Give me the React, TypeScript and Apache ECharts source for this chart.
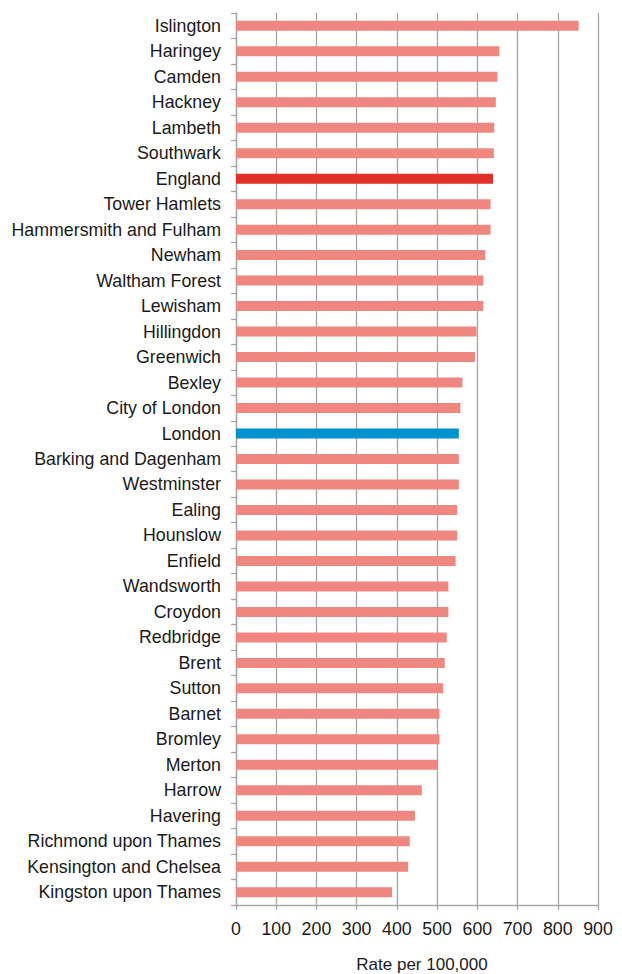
import React, { useEffect, useRef } from "react";
import * as echarts from "echarts";

const categories = [
  "Islington", "Haringey", "Camden", "Hackney", "Lambeth", "Southwark", "England",
  "Tower Hamlets", "Hammersmith and Fulham", "Newham", "Waltham Forest", "Lewisham",
  "Hillingdon", "Greenwich", "Bexley", "City of London", "London", "Barking and Dagenham",
  "Westminster", "Ealing", "Hounslow", "Enfield", "Wandsworth", "Croydon", "Redbridge",
  "Brent", "Sutton", "Barnet", "Bromley", "Merton", "Harrow", "Havering",
  "Richmond upon Thames", "Kensington and Chelsea", "Kingston upon Thames",
];

const rates = [
  852, 655, 650, 646, 642, 641, 639,
  633, 633, 620, 615, 615,
  598, 594, 563, 558, 554, 554,
  554, 550, 550, 546, 528, 528, 524,
  519, 515, 506, 506, 501, 462, 445,
  432, 428, 388,
];

const xTicks = { min: 0, max: 900, interval: 100 };

const COLOR_DEFAULT = "#f08680";
const COLOR_ENGLAND = "#e3312a";
const COLOR_LONDON = "#0091cf";
const FONT = "Liberation Sans, Arial, sans-serif";

export default function App() {
  const ref = useRef<HTMLDivElement>(null);
  useEffect(() => {
    if (!ref.current) return;
    const chart = echarts.init(ref.current, undefined, { renderer: "svg" });
    const data = rates.map((v, i) => {
      const name = categories[i];
      const color = name === "England" ? COLOR_ENGLAND : name === "London" ? COLOR_LONDON : COLOR_DEFAULT;
      return { value: v, itemStyle: { color } };
    });
    chart.setOption({
      animation: false,
      textStyle: { fontFamily: FONT },
      grid: { left: 236, right: 24, top: 13, bottom: 69, containLabel: false, outerBoundsMode: "none" },
      xAxis: {
        type: "value",
        min: xTicks.min,
        max: xTicks.max,
        interval: xTicks.interval,
        name: "Rate per 100,000",
        nameLocation: "middle",
        nameGap: 51,
        nameTextStyle: { fontSize: 17, color: "#1a1a1a", fontFamily: FONT, padding: [0, 0, 0, 10] },
        axisLine: { show: true, lineStyle: { color: "#a6a6a6", width: 1.3 } },
        axisTick: { show: true, length: 5, lineStyle: { color: "#a6a6a6", width: 1.3 } },
        axisLabel: { fontSize: 17.8, color: "#1a1a1a", margin: 15, fontFamily: FONT },
        splitLine: { show: true, lineStyle: { color: "#a6a6a6", width: 1.3 } },
      },
      yAxis: {
        type: "category",
        data: categories,
        inverse: true,
        axisLine: { show: true, lineStyle: { color: "#a6a6a6", width: 1.3 } },
        axisTick: { show: true, length: 5, alignWithLabel: false, lineStyle: { color: "#a6a6a6", width: 1.3 } },
        axisLabel: { fontSize: 17.8, color: "#1a1a1a", margin: 15, fontFamily: FONT },
        splitLine: { show: false },
      },
      series: [
        {
          type: "bar",
          data,
          barWidth: 10,
        },
      ],
    });
    return () => chart.dispose();
  }, []);
  return (
    <div
      ref={ref}
      style={{ position: "fixed", left: 0, top: 0, width: 622, height: 974, background: "#fff" }}
    />
  );
}
